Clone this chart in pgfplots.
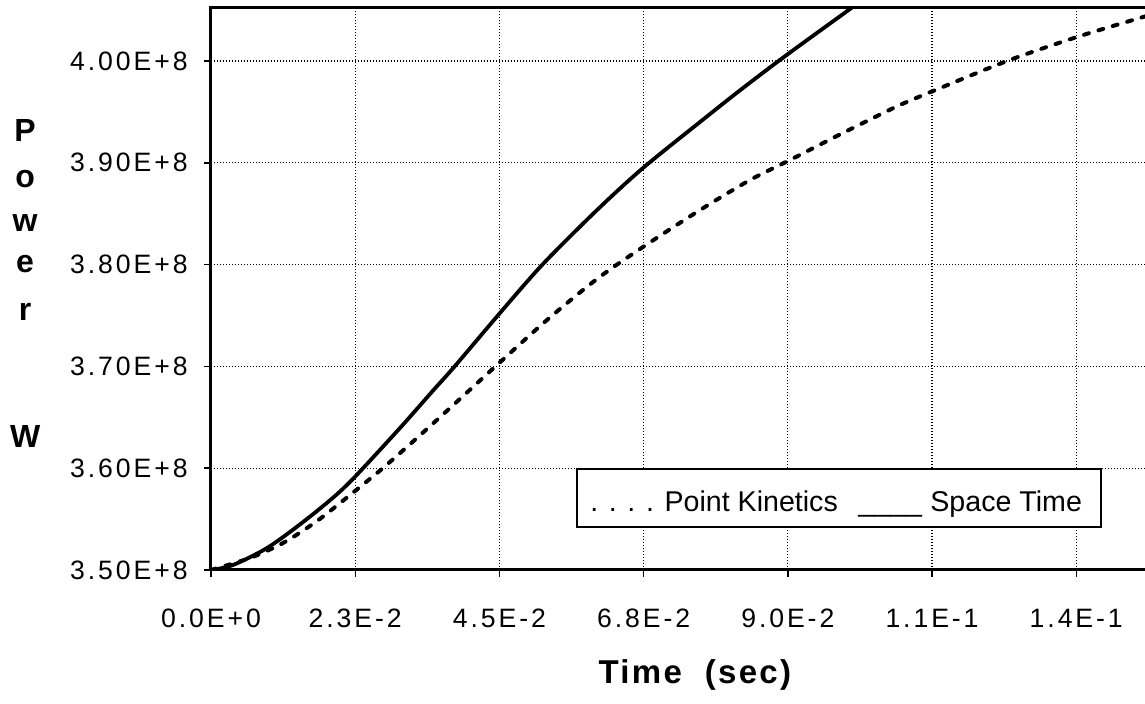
\documentclass[border=0pt]{standalone}
\usepackage{fontspec}
\setmainfont{Liberation Sans}
\newfontfamily\tickfont[LetterSpace=11]{Liberation Sans}
\newfontfamily\labfont[LetterSpace=7]{Liberation Sans}
\usepackage{pgfplots}
\usepackage{pgfplotstable}
\pgfplotsset{compat=1.18}

% Space-time solution
\pgfplotstableread{
t          P
0.000000   3.5000e8
0.003433   3.5049e8
0.008738   3.5216e8
0.013887   3.5448e8
0.019036   3.5710e8
0.022469   3.5916e8
0.029490   3.6395e8
0.034639   3.6762e8
0.038072   3.7004e8
0.045093   3.7525e8
0.051802   3.8006e8
0.060228   3.8536e8
0.067405   3.8949e8
0.076299   3.9401e8
0.083008   3.9735e8
0.090030   4.0069e8
0.099704   4.0511e8
0.104385   4.0727e8
}\spacetime

% Point-kinetics solution
\pgfplotstableread{
t          P
0.000000   3.5000e8
0.006085   3.5118e8
0.011234   3.5265e8
0.016540   3.5481e8
0.022469   3.5776e8
0.026838   3.6002e8
0.032143   3.6297e8
0.037292   3.6591e8
0.044625   3.7014e8
0.052427   3.7456e8
0.060228   3.7859e8
0.067405   3.8173e8
0.076299   3.8536e8
0.084101   3.8831e8
0.090030   3.9018e8
0.097051   3.9244e8
0.102356   3.9411e8
0.107505   3.9568e8
0.112654   3.9705e8
0.124201   4.0000e8
0.135123   4.0236e8
0.145421   4.0432e8
0.147000   4.0460e8
}\pointkin

\newcommand\ylab[2]{\node[anchor=base, inner sep=0pt, font=\fontsize{16}{18}\selectfont\bfseries] at (rel axis cs:-0.199,#2) {#1};}

\begin{document}
\begin{tikzpicture}
\useasboundingbox (-105.5pt,-67pt) rectangle (467pt,285pt);
\begin{axis}[
  at={(0,0)}, anchor=south west,
  scale only axis, width=467pt, height=281pt,
  xmin=0, xmax=0.14573,
  ymin=3.5e8, ymax=4.0521e8,
  clip mode=individual,
  axis line style={draw=none},
  xtick={0,0.0225,0.045,0.0675,0.09,0.1125,0.135},
  xticklabels={0.0E+0,2.3E-2,4.5E-2,6.8E-2,9.0E-2,1.1E-1,1.4E-1},
  ytick={3.5e8,3.6e8,3.7e8,3.8e8,3.9e8,4.0e8},
  yticklabels={3.50E+8,3.60E+8,3.70E+8,3.80E+8,3.90E+8,4.00E+8},
  scaled y ticks=false, scaled x ticks=false,
  xtick pos=bottom, ytick pos=left,
  tick align=outside,
  major tick length=3.5pt,
  every tick/.style={black, line width=0.7pt},
  xticklabel style={font=\fontsize{13.3}{15}\tickfont, anchor=north, inner sep=0pt, yshift=-16pt},
  yticklabel style={font=\fontsize{13.3}{15}\tickfont, anchor=east, inner sep=0pt, xshift=-8pt},
  grid=major,
  major grid style={black, line width=0.6pt, dash pattern=on 0.6pt off 0.9pt},
]
\addplot[black, line width=1.9pt, smooth] table[x=t, y=P] {\spacetime};
\addplot[black, line width=2pt, line cap=round, dash pattern=on 2.5pt off 5pt, smooth] table[x=t, y=P] {\pointkin};

% frame: top, left and bottom edges
\draw[line width=1.5pt] (rel axis cs:1,1) -- (rel axis cs:0,1) -- (rel axis cs:0,0) -- (rel axis cs:1,0);

% legend
\draw[line width=0.75pt, fill=white] (rel axis cs:0.3919,0.0765) rectangle (rel axis cs:0.9530,0.1797);
\node[anchor=base west, inner sep=0pt, font=\fontsize{14.3}{16}\selectfont] at (rel axis cs:0.4058,0.1032) {. . . . Point Kinetics};
\node[anchor=base west, inner sep=0pt, font=\fontsize{14.3}{16}\selectfont] at (rel axis cs:0.6927,0.1032) {\_\_\_\_};
\node[anchor=base west, inner sep=0pt, font=\fontsize{14.3}{16}\selectfont] at (rel axis cs:0.7698,0.1032) {Space Time};

% axis titles
\node[anchor=base, inner sep=0pt, font=\fontsize{16.5}{19}\labfont\bfseries] at (rel axis cs:0.518,-0.2011) {Time\ \ (sec)};
\ylab{P}{0.7616}
\ylab{o}{0.6797}
\ylab{w}{0.6014}
\ylab{e}{0.5285}
\ylab{r}{0.4448}
\ylab{W}{0.2171}
\end{axis}
\end{tikzpicture}
\end{document}
